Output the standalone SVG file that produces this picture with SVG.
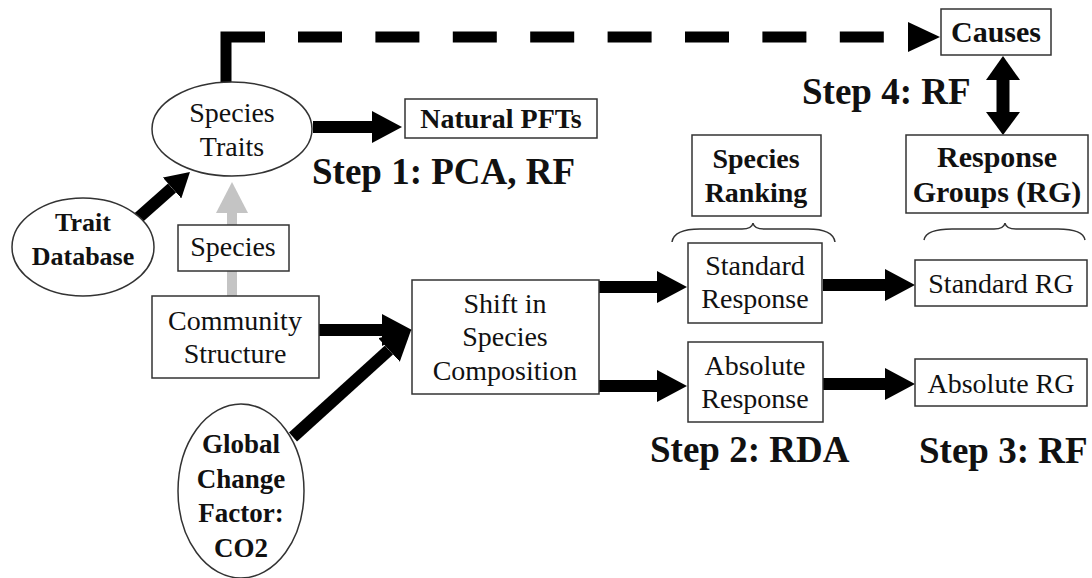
<svg xmlns="http://www.w3.org/2000/svg" width="1092" height="578" viewBox="0 0 1092 578">
<style>
.box{fill:#fff;stroke:#333;stroke-width:1.5}
.t{font-family:"Liberation Serif","Times New Roman",serif;font-size:28px;fill:#111;text-anchor:middle}
.b{font-weight:bold}
.step{font-family:"Liberation Serif","Times New Roman",serif;font-size:37px;font-weight:bold;fill:#111}
.arr{stroke:#000;stroke-width:12;fill:none}
.brace{fill:none;stroke:#333;stroke-width:1.5}
</style>
<defs>
<marker id="head" markerUnits="userSpaceOnUse" markerWidth="30" markerHeight="32" refX="0" refY="16" orient="auto"><path d="M0,0 L30,16 L0,32 z" fill="#000"/></marker>
<marker id="headS" markerUnits="userSpaceOnUse" markerWidth="24" markerHeight="28" refX="0" refY="14" orient="auto"><path d="M0,0 L24,14 L0,28 z" fill="#000"/></marker>
<marker id="headG" markerUnits="userSpaceOnUse" markerWidth="31" markerHeight="32" refX="0" refY="16" orient="auto"><path d="M0,0 L31,16 L0,32 z" fill="#c4c4c4"/></marker>
</defs>

<g id="connectors">
<path d="M226,83 V37 H265" stroke="#000" stroke-width="11" fill="none" stroke-linejoin="miter"/>
<line x1="298" y1="37" x2="884" y2="37" stroke="#000" stroke-width="11" stroke-dasharray="44 33.4"/>
<polygon points="908,22 940,37 908,52" fill="#000"/>
<line class="arr" x1="313" y1="127" x2="372" y2="127" marker-end="url(#head)"/>
<line class="arr" x1="137" y1="219" x2="172" y2="188" marker-end="url(#headS)"/>
<line x1="232" y1="296" x2="232" y2="213" stroke="#c4c4c4" stroke-width="10" marker-end="url(#headG)"/>
<line class="arr" x1="319" y1="330" x2="382" y2="330" marker-end="url(#head)"/>
<line class="arr" x1="293" y1="437" x2="389" y2="350" marker-end="url(#head)"/>
<line class="arr" x1="599" y1="287" x2="657" y2="287" marker-end="url(#head)"/>
<line class="arr" x1="599" y1="386" x2="657" y2="386" marker-end="url(#head)"/>
<line class="arr" x1="823" y1="285" x2="885" y2="285" marker-end="url(#head)"/>
<line class="arr" x1="823" y1="384" x2="885" y2="384" marker-end="url(#head)"/>
<line x1="1003" y1="78" x2="1003" y2="114" stroke="#000" stroke-width="13"/>
<polygon points="986,80 1003,56 1020,80" fill="#000"/>
<polygon points="986,112 1003,135 1020,112" fill="#000"/>
<path class="brace" d="M672,242 Q674,229 700,229 L742,229 Q752,229 753,223 Q754,229 764,229 L808,229 Q833,229 835,242"/>
<path class="brace" d="M924,240 Q926,229 952,229 L994,229 Q1004,229 1005,223 Q1006,229 1016,229 L1058,229 Q1083,229 1085,240"/>
</g>

<g id="species-traits">
<ellipse class="box" cx="232" cy="129" rx="80" ry="47"/>
<text class="t" x="232" y="122">Species</text>
<text class="t" x="232" y="156">Traits</text>
</g>
<g id="natural-pfts">
<rect class="box" x="405" y="99" width="192" height="39"/>
<text class="t b" x="501" y="128">Natural PFTs</text>
</g>
<g id="trait-database">
<ellipse class="box" cx="83" cy="247" rx="71" ry="49"/>
<text class="t b" x="83" y="231" style="font-size:26px">Trait</text>
<text class="t b" x="83" y="265" style="font-size:26px">Database</text>
</g>
<g id="species">
<rect class="box" x="178" y="225" width="111" height="46"/>
<text class="t" x="233" y="256">Species</text>
</g>
<g id="community-structure">
<rect class="box" x="152" y="296" width="167" height="82"/>
<text class="t" x="235" y="330">Community</text>
<text class="t" x="235" y="363">Structure</text>
</g>
<g id="global-change">
<ellipse class="box" cx="241" cy="491" rx="63" ry="87"/>
<text class="t b" x="241" y="453" style="font-size:27px">Global</text>
<text class="t b" x="241" y="488" style="font-size:27px">Change</text>
<text class="t b" x="241" y="522" style="font-size:27px">Factor:</text>
<text class="t b" x="241" y="557" style="font-size:27px">CO2</text>
</g>
<g id="shift">
<rect class="box" x="412" y="280" width="187" height="114"/>
<text class="t" x="505" y="313">Shift in</text>
<text class="t" x="505" y="346">Species</text>
<text class="t" x="505" y="380">Composition</text>
</g>
<g id="species-ranking">
<rect class="box" x="692" y="135" width="129" height="81"/>
<text class="t b" x="756" y="168">Species</text>
<text class="t b" x="756" y="202">Ranking</text>
</g>
<g id="standard-response">
<rect class="box" x="688" y="243" width="134" height="80"/>
<text class="t" x="755" y="275">Standard</text>
<text class="t" x="755" y="308">Response</text>
</g>
<g id="absolute-response">
<rect class="box" x="688" y="342" width="135" height="80"/>
<text class="t" x="755" y="375">Absolute</text>
<text class="t" x="755" y="408">Response</text>
</g>
<g id="causes">
<rect class="box" x="941" y="9" width="110" height="46"/>
<text class="t b" x="996" y="42" style="font-size:30px">Causes</text>
</g>
<g id="response-groups">
<rect class="box" x="906" y="135" width="182" height="78"/>
<text class="t b" x="997" y="167" style="font-size:30px">Response</text>
<text class="t b" x="997" y="202" style="font-size:30px">Groups (RG)</text>
</g>
<g id="standard-rg">
<rect class="box" x="915" y="260" width="172" height="46"/>
<text class="t" x="1001" y="293">Standard RG</text>
</g>
<g id="absolute-rg">
<rect class="box" x="915" y="359" width="172" height="47"/>
<text class="t" x="1001" y="393">Absolute RG</text>
</g>

<g id="labels">
<text class="step" x="312" y="184">Step 1: PCA, RF</text>
<text class="step" x="650" y="462">Step 2: RDA</text>
<text class="step" x="919" y="463">Step 3: RF</text>
<text class="step" x="802" y="104">Step 4: RF</text>
</g>
</svg>
